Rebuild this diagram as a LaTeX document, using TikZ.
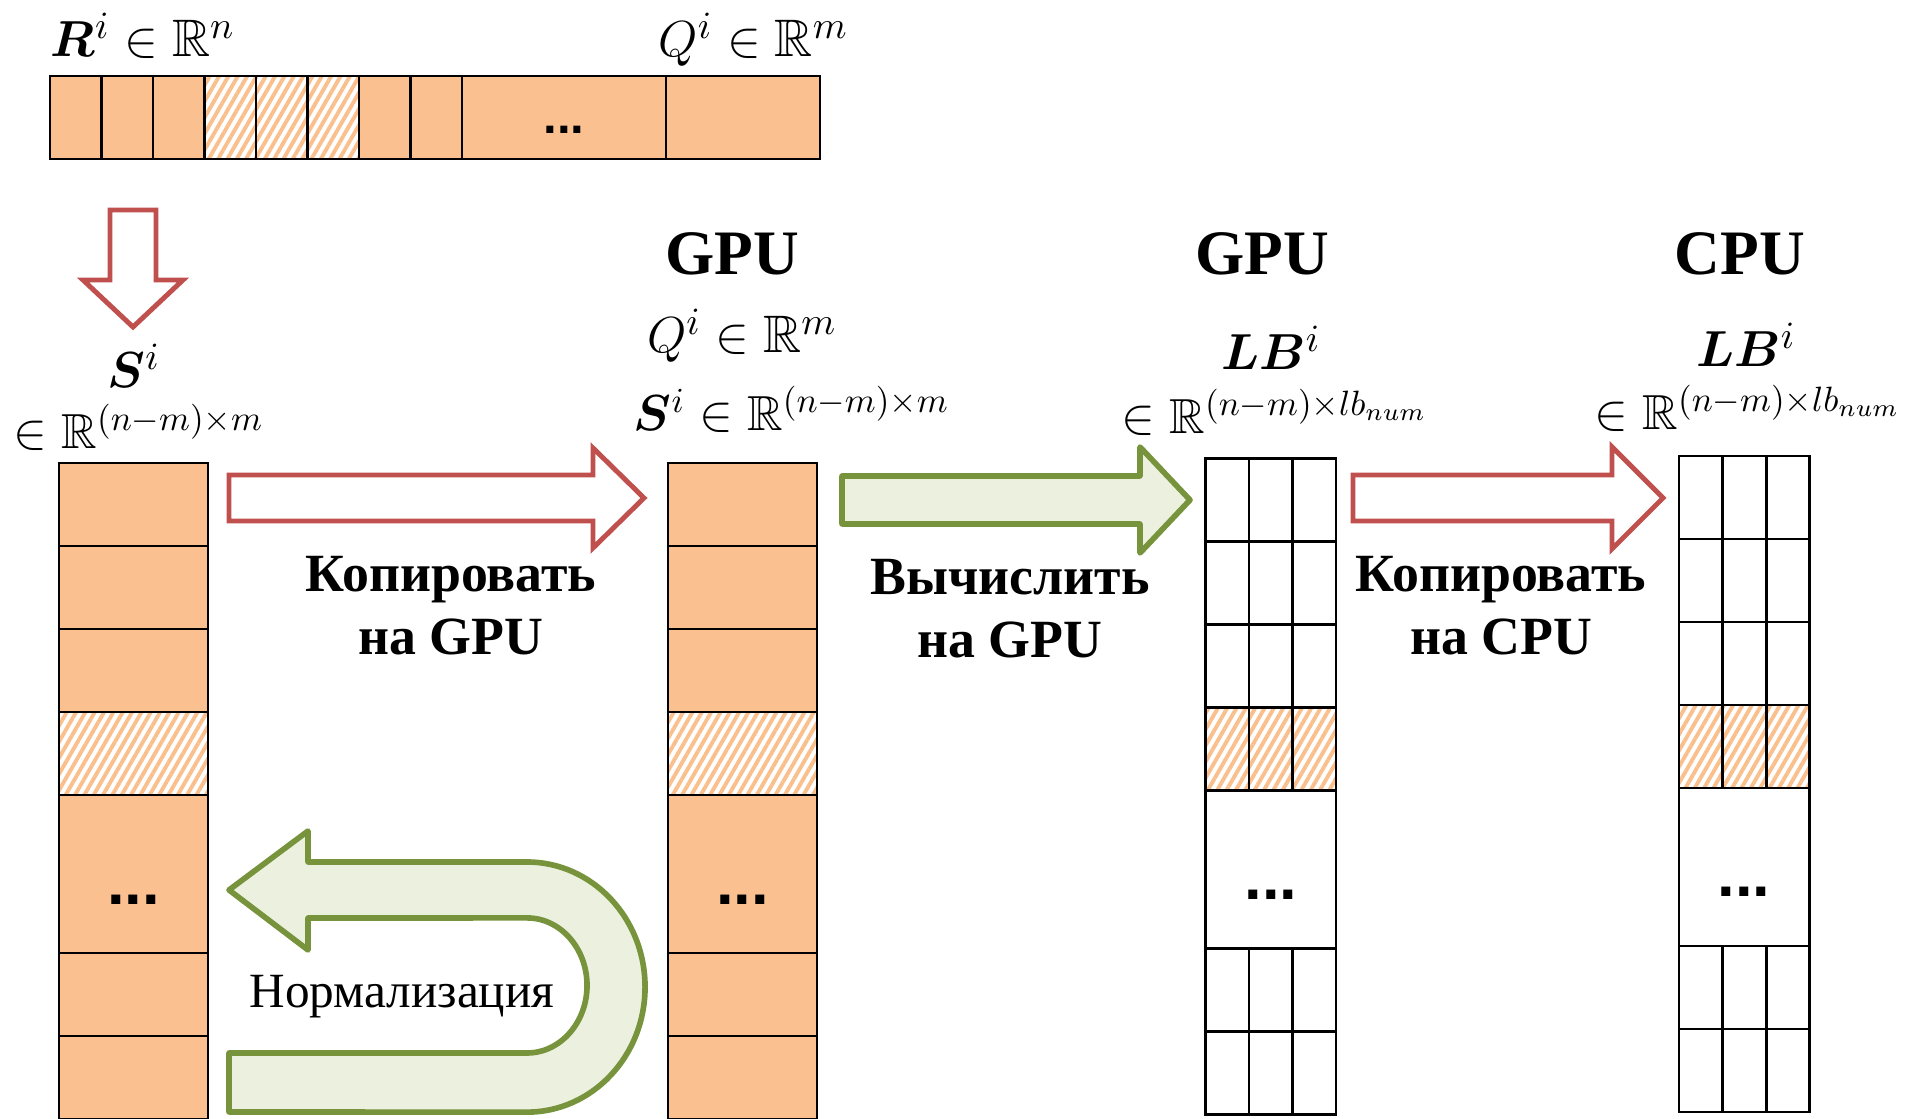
\documentclass[tikz,border=0pt]{standalone}
\usepackage{fontspec}
\usepackage{amsmath,amssymb,bm}
\setmainfont{Liberation Serif}
\setsansfont{Liberation Sans}
\usetikzlibrary{patterns.meta, positioning, calc}
\definecolor{cellC} {HTML}{FAC090}
\definecolor{hatchC}{HTML}{F9BF8C}
\definecolor{copyC} {HTML}{C0504D}
\definecolor{calcC} {HTML}{77933C}
\definecolor{calcF} {HTML}{EBF1DE}
\tikzset{
  cell/.style      = {draw=black, line width=0.8pt},
  cellfill/.style  = {fill=cellC},
  cellhatch/.style = {pattern={Lines[angle=60, distance=2.3pt, line width=1.1pt]},
                      pattern color=hatchC},
  cellblank/.style = {fill=white},
  copyarr/.style   = {draw=copyC, line width=1.4pt, fill=white, line join=miter},
  calcarr/.style   = {draw=calcC, line width=1.6pt, fill=calcF, line join=round},
  hdr/.style       = {font=\fontsize{18}{20}\selectfont\bfseries, inner sep=0pt},
  mth/.style       = {font=\fontsize{14}{17}\selectfont, inner sep=0pt},
  albl/.style      = {font=\fontsize{15.3}{18}\selectfont\bfseries, align=center, inner sep=0pt},
  nlbl/.style      = {font=\fontsize{14}{16}\selectfont, inner sep=0pt},
  dots/.style      = {font=\fontsize{18}{18}\selectfont\sffamily\bfseries, inner sep=0pt},
}
\begin{document}
\begin{tikzpicture}[x=0.01cm, y=-0.01cm]
\useasboundingbox (0,0) rectangle (1917,1119);

% ---- Source vector R^i ------------------------------------------------------
\foreach \k/\f in {0/cellfill, 1/cellfill, 2/cellfill, 3/cellhatch,
                   4/cellhatch, 5/cellhatch, 6/cellfill, 7/cellfill}
  \draw[cell, \f] ({50+\k*51.5}, 76) rectangle +(51.5, 83);
\draw[cell, cellfill] (462, 76) rectangle (666, 159);
\draw[cell, cellfill] (666, 76) rectangle (820, 159);
\node[dots, font=\fontsize{14}{14}\selectfont\sffamily\bfseries, anchor=base]
  (rdots) at (564, 134) {...};
\node[mth, font=\fontsize{15}{17}\selectfont, anchor=base west] (rlbl) at (50, 57)
  {$\bm{R}^{i}\in\mathbb{R}^{n}$};
\node[mth, font=\fontsize{15}{17}\selectfont, anchor=base west] (qlbl) at (658, 57)
  {$Q^{i}\in\mathbb{R}^{m}$};

% Split arrow
\draw[copyarr] (110,210) -- (156,210) -- (156,280) -- (183,280) -- (133,327)
  -- (83,280) -- (110,280) -- cycle;

% ---- Column S^i (host) ------------------------------------------------------
\node[mth, font=\fontsize{15}{17}\selectfont, anchor=base] (slbl) at (134, 388) {$\bm{S}^{i}$};
\node[mth, anchor=base west] (sdim) at (13, 449) {$\in\mathbb{R}^{(n-m)\times m}$};
\foreach \y/\f in {463/cellfill, 546/cellfill, 629/cellfill, 712/cellhatch,
                   953/cellfill, 1036/cellfill}
  \draw[cell, \f] (59, \y) rectangle +(149, 83);
\draw[cell, cellfill] (59, 795) rectangle +(149, 158);
\node[dots, anchor=base] (sdots) at (133.5, 905) {...};

% ---- Column S^i (GPU) -------------------------------------------------------
\node[hdr, anchor=base] (gpuA) at (732, 275) {GPU};
\node[mth, font=\fontsize{15}{17}\selectfont, anchor=base] (qgpu) at (742, 353)
  {$Q^{i}\in\mathbb{R}^{m}$};
\node[mth, anchor=base west] (sgpu) at (633, 431) {$\bm{S}^{i}\in\mathbb{R}^{(n-m)\times m}$};
\foreach \y/\f in {463/cellfill, 546/cellfill, 629/cellfill, 712/cellhatch,
                   953/cellfill, 1036/cellfill}
  \draw[cell, \f] (668, \y) rectangle +(149, 83);
\draw[cell, cellfill] (668, 795) rectangle +(149, 158);
\node[dots, anchor=base] (gdots) at (742.5, 905) {...};

% ---- Column LB^i (GPU) ------------------------------------------------------
\node[hdr, anchor=base] (gpuB) at (1262, 275) {GPU};
\node[mth, font=\fontsize{15}{17}\selectfont, anchor=base] (lbg) at (1271, 370) {$\bm{LB}^{i}$};
\node[mth, anchor=base west] (lbgdim) at (1121, 434) {$\in\mathbb{R}^{(n-m)\times lb_{num}}$};
\foreach \y/\f in {458.5/cellblank, 541.5/cellblank, 624.5/cellblank,
                   707.5/cellhatch, 948.5/cellblank, 1031.5/cellblank}
  \foreach \j in {0,1,2}
    \draw[cell, \f] ({1205.5+\j*43.5}, \y) rectangle +(43.5, 83);
\draw[cell] (1205.5, 790.5) rectangle +(130.5, 158);
\node[dots, anchor=base] (lbgdots) at (1271, 900) {...};

% ---- Column LB^i (CPU) ------------------------------------------------------
\node[hdr, anchor=base] (cpu) at (1740, 275) {CPU};
\node[mth, font=\fontsize{15}{17}\selectfont, anchor=base] (lbc) at (1746, 367) {$\bm{LB}^{i}$};
\node[mth, anchor=base west] (lbcdim) at (1594, 430) {$\in\mathbb{R}^{(n-m)\times lb_{num}}$};
\foreach \y/\f in {456/cellblank, 539/cellblank, 622/cellblank,
                   705/cellhatch, 946/cellblank, 1029/cellblank}
  \foreach \j in {0,1,2}
    \draw[cell, \f] ({1679+\j*43.6}, \y) rectangle +(43.6, 83);
\draw[cell] (1679, 788) rectangle +(130.8, 158);
\node[dots, anchor=base] (lbcdots) at (1744, 897) {...};

% ---- Transfer / compute arrows ---------------------------------------------
\draw[copyarr] (229,475) -- (593,475) -- (593,448) -- (644,498) -- (593,548)
  -- (593,521) -- (229,521) -- cycle;
\node[albl, anchor=base] (copyA) at (451, 655) {Копировать\\на GPU};

\draw[calcarr] (842,476) -- (1140,476) -- (1140,447) -- (1190,500) -- (1140,553)
  -- (1140,524) -- (842,524) -- cycle;
\node[albl, anchor=base] (calc) at (1010, 658) {Вычислить\\на GPU};

\draw[copyarr] (1353,475) -- (1612,475) -- (1612,447) -- (1663,498) -- (1612,549)
  -- (1612,521) -- (1353,521) -- cycle;
\node[albl, anchor=base] (copyB) at (1501, 655) {Копировать\\на CPU};

% Normalisation loop
\draw[calcarr]
  (229,890) -- (308,831) -- (308,862) -- (527,862)
  arc[start angle=90, end angle=-90, x radius=1.18cm, y radius=1.25cm]
  -- (229,1112) -- (229,1053) -- (527,1053)
  arc[start angle=-90, end angle=90, x radius=0.60cm, y radius=0.675cm]
  -- (308,918) -- (308,950) -- cycle;
\node[nlbl, anchor=base] (norm) at (402, 1008) {Нормализация};

\end{tikzpicture}
\end{document}
